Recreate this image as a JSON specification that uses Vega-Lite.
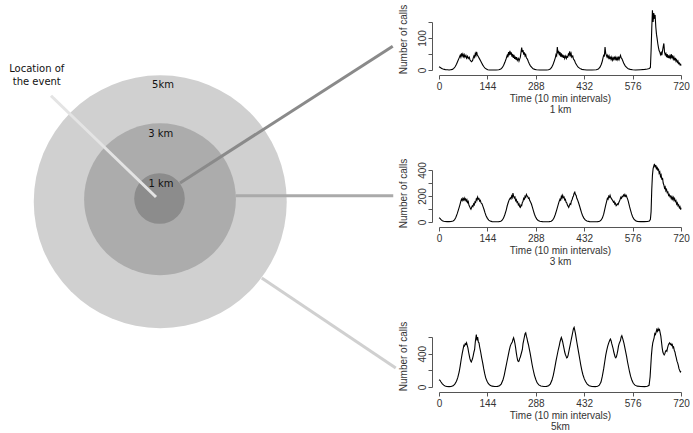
{
"$schema":"https://vega.github.io/schema/vega-lite/v6.json",
"padding":{"top":4,"left":0,"right":0,"bottom":0},
"background":"white",
"datasets":{
"rings":[{"ring":"5 km","km":5,"x":0.08,"y":-0.15},{"ring":"3 km","km":3,"x":0.07,"y":-0.05},{"ring":"1 km","km":1,"x":0.05,"y":-0.02}],
"links":[
{"to":"event","x":-4.29,"y":4.09,"x2":-0.09,"y2":0.04},
{"to":"1 km","x":0.87,"y":0.6,"x2":9.38,"y2":6.07},
{"to":"3 km","x":3.09,"y":0.09,"x2":9.4,"y2":0.09},
{"to":"5 km","x":4.14,"y":-3.2,"x2":9.5,"y2":-6.8}],
"labels":[
{"text":"Location of","x":-4.86,"y":5.17},
{"text":"the event","x":-4.86,"y":4.64},
{"text":"5km","x":0.19,"y":4.51},
{"text":"3 km","x":0.1,"y":2.56},
{"text":"1 km","x":0.11,"y":0.56}],
"s1":[{"t":0,"c":10},{"t":4,"c":8},{"t":8,"c":5},{"t":12,"c":3},{"t":16,"c":2},{"t":20,"c":1},{"t":25,"c":1},{"t":30,"c":0},{"t":35,"c":1},{"t":40,"c":2},{"t":44,"c":5},{"t":48,"c":10},{"t":52,"c":18},{"t":56,"c":28},{"t":60,"c":38},{"t":63,"c":46},{"t":65,"c":40},{"t":67,"c":52},{"t":69,"c":44},{"t":71,"c":50},{"t":73,"c":42},{"t":75,"c":48},{"t":77,"c":40},{"t":80,"c":46},{"t":82,"c":37},{"t":85,"c":43},{"t":87,"c":36},{"t":90,"c":40},{"t":92,"c":32},{"t":95,"c":28},{"t":97,"c":26},{"t":100,"c":30},{"t":102,"c":38},{"t":104,"c":44},{"t":106,"c":40},{"t":108,"c":52},{"t":110,"c":46},{"t":112,"c":57},{"t":114,"c":47},{"t":116,"c":44},{"t":118,"c":40},{"t":121,"c":34},{"t":124,"c":28},{"t":127,"c":22},{"t":130,"c":16},{"t":133,"c":11},{"t":137,"c":6},{"t":141,"c":3},{"t":145,"c":1},{"t":150,"c":0},{"t":160,"c":0},{"t":170,"c":0},{"t":178,"c":1},{"t":184,"c":3},{"t":188,"c":7},{"t":192,"c":14},{"t":196,"c":24},{"t":200,"c":36},{"t":203,"c":46},{"t":205,"c":40},{"t":207,"c":56},{"t":209,"c":46},{"t":211,"c":60},{"t":213,"c":48},{"t":215,"c":55},{"t":217,"c":42},{"t":219,"c":50},{"t":221,"c":38},{"t":223,"c":47},{"t":225,"c":35},{"t":227,"c":42},{"t":229,"c":32},{"t":231,"c":40},{"t":233,"c":30},{"t":236,"c":36},{"t":238,"c":28},{"t":240,"c":34},{"t":242,"c":40},{"t":244,"c":55},{"t":246,"c":70},{"t":248,"c":56},{"t":250,"c":62},{"t":252,"c":48},{"t":254,"c":55},{"t":256,"c":44},{"t":258,"c":48},{"t":260,"c":38},{"t":263,"c":34},{"t":266,"c":26},{"t":269,"c":19},{"t":272,"c":13},{"t":276,"c":8},{"t":280,"c":4},{"t":285,"c":2},{"t":290,"c":1},{"t":300,"c":0},{"t":310,"c":0},{"t":320,"c":0},{"t":326,"c":1},{"t":331,"c":3},{"t":335,"c":8},{"t":339,"c":16},{"t":343,"c":28},{"t":346,"c":38},{"t":348,"c":48},{"t":350,"c":44},{"t":352,"c":72},{"t":354,"c":52},{"t":356,"c":60},{"t":358,"c":46},{"t":360,"c":56},{"t":362,"c":42},{"t":364,"c":52},{"t":366,"c":40},{"t":368,"c":48},{"t":370,"c":38},{"t":372,"c":46},{"t":374,"c":36},{"t":377,"c":44},{"t":379,"c":36},{"t":381,"c":42},{"t":383,"c":40},{"t":385,"c":50},{"t":387,"c":46},{"t":389,"c":58},{"t":391,"c":46},{"t":393,"c":52},{"t":395,"c":40},{"t":398,"c":44},{"t":400,"c":34},{"t":403,"c":30},{"t":406,"c":22},{"t":410,"c":15},{"t":414,"c":9},{"t":419,"c":5},{"t":425,"c":2},{"t":432,"c":1},{"t":440,"c":0},{"t":455,"c":0},{"t":468,"c":1},{"t":474,"c":3},{"t":479,"c":9},{"t":483,"c":18},{"t":486,"c":28},{"t":488,"c":38},{"t":490,"c":46},{"t":492,"c":44},{"t":494,"c":72},{"t":496,"c":52},{"t":498,"c":46},{"t":500,"c":40},{"t":502,"c":46},{"t":504,"c":38},{"t":506,"c":44},{"t":508,"c":34},{"t":510,"c":42},{"t":512,"c":33},{"t":514,"c":40},{"t":516,"c":31},{"t":518,"c":38},{"t":520,"c":33},{"t":522,"c":42},{"t":524,"c":34},{"t":526,"c":40},{"t":528,"c":30},{"t":530,"c":38},{"t":532,"c":32},{"t":534,"c":42},{"t":536,"c":33},{"t":538,"c":40},{"t":540,"c":46},{"t":542,"c":38},{"t":544,"c":36},{"t":547,"c":28},{"t":550,"c":20},{"t":554,"c":13},{"t":558,"c":8},{"t":563,"c":4},{"t":569,"c":2},{"t":576,"c":1},{"t":585,"c":0},{"t":600,"c":1},{"t":612,"c":2},{"t":620,"c":3},{"t":626,"c":5},{"t":629,"c":8},{"t":631,"c":60},{"t":633,"c":130},{"t":635,"c":187},{"t":637,"c":150},{"t":639,"c":178},{"t":641,"c":160},{"t":643,"c":172},{"t":645,"c":135},{"t":647,"c":112},{"t":649,"c":98},{"t":651,"c":82},{"t":653,"c":70},{"t":655,"c":60},{"t":657,"c":56},{"t":659,"c":48},{"t":661,"c":54},{"t":663,"c":46},{"t":665,"c":60},{"t":667,"c":72},{"t":669,"c":83},{"t":671,"c":56},{"t":673,"c":48},{"t":675,"c":52},{"t":677,"c":40},{"t":679,"c":50},{"t":681,"c":38},{"t":683,"c":46},{"t":685,"c":36},{"t":687,"c":44},{"t":689,"c":38},{"t":691,"c":50},{"t":693,"c":36},{"t":695,"c":46},{"t":697,"c":34},{"t":699,"c":40},{"t":701,"c":30},{"t":703,"c":38},{"t":705,"c":28},{"t":707,"c":32},{"t":709,"c":24},{"t":711,"c":28},{"t":713,"c":20},{"t":715,"c":22},{"t":717,"c":16},{"t":719,"c":18},{"t":720,"c":14}],
"s2":[{"t":0,"c":32},{"t":3,"c":28},{"t":6,"c":18},{"t":10,"c":10},{"t":14,"c":6},{"t":18,"c":4},{"t":24,"c":3},{"t":30,"c":3},{"t":36,"c":4},{"t":42,"c":8},{"t":46,"c":16},{"t":50,"c":35},{"t":54,"c":62},{"t":58,"c":95},{"t":62,"c":130},{"t":65,"c":160},{"t":67,"c":175},{"t":69,"c":165},{"t":71,"c":182},{"t":73,"c":170},{"t":75,"c":185},{"t":77,"c":168},{"t":79,"c":178},{"t":81,"c":160},{"t":83,"c":172},{"t":85,"c":150},{"t":87,"c":158},{"t":89,"c":130},{"t":91,"c":120},{"t":93,"c":108},{"t":95,"c":98},{"t":97,"c":112},{"t":99,"c":124},{"t":101,"c":118},{"t":103,"c":140},{"t":105,"c":132},{"t":107,"c":155},{"t":109,"c":150},{"t":111,"c":178},{"t":113,"c":168},{"t":115,"c":192},{"t":117,"c":176},{"t":119,"c":180},{"t":121,"c":160},{"t":123,"c":166},{"t":125,"c":148},{"t":128,"c":140},{"t":131,"c":118},{"t":134,"c":96},{"t":137,"c":70},{"t":140,"c":48},{"t":144,"c":28},{"t":148,"c":14},{"t":152,"c":7},{"t":158,"c":3},{"t":168,"c":2},{"t":178,"c":3},{"t":184,"c":6},{"t":188,"c":14},{"t":192,"c":30},{"t":196,"c":58},{"t":200,"c":92},{"t":203,"c":125},{"t":206,"c":150},{"t":209,"c":172},{"t":212,"c":185},{"t":214,"c":178},{"t":216,"c":200},{"t":218,"c":188},{"t":220,"c":222},{"t":222,"c":198},{"t":224,"c":185},{"t":226,"c":192},{"t":228,"c":165},{"t":230,"c":172},{"t":232,"c":150},{"t":234,"c":155},{"t":236,"c":132},{"t":238,"c":140},{"t":240,"c":118},{"t":242,"c":112},{"t":244,"c":130},{"t":246,"c":125},{"t":248,"c":150},{"t":250,"c":160},{"t":252,"c":182},{"t":254,"c":175},{"t":256,"c":198},{"t":258,"c":190},{"t":260,"c":212},{"t":262,"c":200},{"t":264,"c":196},{"t":266,"c":182},{"t":268,"c":185},{"t":270,"c":165},{"t":272,"c":155},{"t":275,"c":138},{"t":278,"c":112},{"t":281,"c":85},{"t":284,"c":60},{"t":287,"c":40},{"t":291,"c":22},{"t":295,"c":12},{"t":300,"c":6},{"t":308,"c":3},{"t":318,"c":2},{"t":328,"c":3},{"t":334,"c":6},{"t":338,"c":14},{"t":342,"c":30},{"t":346,"c":58},{"t":350,"c":92},{"t":354,"c":128},{"t":357,"c":155},{"t":360,"c":175},{"t":362,"c":168},{"t":364,"c":198},{"t":366,"c":185},{"t":368,"c":205},{"t":370,"c":188},{"t":372,"c":192},{"t":374,"c":170},{"t":376,"c":175},{"t":378,"c":152},{"t":380,"c":148},{"t":382,"c":130},{"t":384,"c":122},{"t":386,"c":112},{"t":388,"c":128},{"t":390,"c":140},{"t":392,"c":135},{"t":394,"c":162},{"t":396,"c":170},{"t":398,"c":190},{"t":400,"c":200},{"t":402,"c":222},{"t":404,"c":230},{"t":406,"c":210},{"t":408,"c":205},{"t":410,"c":182},{"t":412,"c":172},{"t":415,"c":150},{"t":418,"c":125},{"t":421,"c":98},{"t":424,"c":72},{"t":427,"c":50},{"t":431,"c":30},{"t":435,"c":16},{"t":440,"c":8},{"t":448,"c":3},{"t":460,"c":2},{"t":472,"c":3},{"t":478,"c":6},{"t":482,"c":14},{"t":486,"c":30},{"t":490,"c":60},{"t":493,"c":95},{"t":496,"c":130},{"t":499,"c":160},{"t":501,"c":182},{"t":503,"c":175},{"t":505,"c":198},{"t":507,"c":190},{"t":509,"c":205},{"t":511,"c":188},{"t":513,"c":180},{"t":515,"c":172},{"t":517,"c":165},{"t":519,"c":152},{"t":521,"c":158},{"t":523,"c":138},{"t":525,"c":145},{"t":527,"c":125},{"t":529,"c":130},{"t":531,"c":140},{"t":533,"c":135},{"t":535,"c":150},{"t":537,"c":162},{"t":539,"c":175},{"t":541,"c":190},{"t":543,"c":182},{"t":545,"c":198},{"t":547,"c":195},{"t":549,"c":208},{"t":551,"c":200},{"t":553,"c":212},{"t":555,"c":198},{"t":557,"c":205},{"t":559,"c":190},{"t":561,"c":178},{"t":563,"c":160},{"t":565,"c":140},{"t":567,"c":118},{"t":570,"c":90},{"t":573,"c":62},{"t":576,"c":40},{"t":580,"c":22},{"t":585,"c":10},{"t":590,"c":5},{"t":600,"c":3},{"t":610,"c":3},{"t":620,"c":4},{"t":626,"c":8},{"t":629,"c":20},{"t":631,"c":80},{"t":633,"c":250},{"t":635,"c":360},{"t":637,"c":410},{"t":639,"c":430},{"t":641,"c":447},{"t":643,"c":420},{"t":645,"c":438},{"t":647,"c":405},{"t":649,"c":425},{"t":651,"c":395},{"t":653,"c":410},{"t":655,"c":375},{"t":657,"c":385},{"t":659,"c":350},{"t":661,"c":362},{"t":663,"c":325},{"t":665,"c":340},{"t":667,"c":300},{"t":669,"c":285},{"t":671,"c":260},{"t":673,"c":270},{"t":675,"c":240},{"t":677,"c":250},{"t":679,"c":225},{"t":681,"c":230},{"t":683,"c":205},{"t":685,"c":212},{"t":687,"c":195},{"t":689,"c":200},{"t":691,"c":180},{"t":693,"c":195},{"t":695,"c":176},{"t":697,"c":190},{"t":699,"c":168},{"t":701,"c":180},{"t":703,"c":158},{"t":705,"c":165},{"t":707,"c":138},{"t":709,"c":148},{"t":711,"c":125},{"t":713,"c":132},{"t":715,"c":110},{"t":717,"c":118},{"t":719,"c":95},{"t":720,"c":110}],
"s3":[{"t":0,"c":88},{"t":3,"c":80},{"t":6,"c":60},{"t":10,"c":38},{"t":14,"c":22},{"t":18,"c":12},{"t":23,"c":6},{"t":30,"c":4},{"t":36,"c":6},{"t":42,"c":14},{"t":47,"c":35},{"t":52,"c":70},{"t":56,"c":115},{"t":60,"c":180},{"t":63,"c":250},{"t":66,"c":330},{"t":69,"c":400},{"t":72,"c":460},{"t":74,"c":500},{"t":76,"c":492},{"t":78,"c":520},{"t":80,"c":510},{"t":82,"c":530},{"t":84,"c":500},{"t":86,"c":470},{"t":88,"c":420},{"t":90,"c":380},{"t":92,"c":340},{"t":94,"c":315},{"t":96,"c":300},{"t":98,"c":320},{"t":100,"c":345},{"t":102,"c":380},{"t":104,"c":420},{"t":106,"c":450},{"t":108,"c":540},{"t":110,"c":600},{"t":111,"c":630},{"t":113,"c":560},{"t":115,"c":600},{"t":117,"c":540},{"t":119,"c":530},{"t":121,"c":480},{"t":124,"c":420},{"t":127,"c":350},{"t":130,"c":290},{"t":133,"c":220},{"t":136,"c":160},{"t":139,"c":110},{"t":143,"c":70},{"t":147,"c":40},{"t":152,"c":20},{"t":158,"c":10},{"t":166,"c":6},{"t":174,"c":8},{"t":180,"c":15},{"t":185,"c":35},{"t":190,"c":80},{"t":194,"c":140},{"t":198,"c":220},{"t":202,"c":300},{"t":206,"c":380},{"t":209,"c":440},{"t":212,"c":490},{"t":215,"c":520},{"t":218,"c":540},{"t":220,"c":570},{"t":222,"c":590},{"t":224,"c":560},{"t":226,"c":520},{"t":228,"c":470},{"t":230,"c":410},{"t":232,"c":360},{"t":234,"c":320},{"t":236,"c":305},{"t":238,"c":310},{"t":240,"c":340},{"t":242,"c":360},{"t":244,"c":390},{"t":246,"c":420},{"t":248,"c":450},{"t":250,"c":520},{"t":252,"c":560},{"t":254,"c":600},{"t":256,"c":640},{"t":258,"c":650},{"t":260,"c":610},{"t":262,"c":580},{"t":264,"c":540},{"t":266,"c":510},{"t":268,"c":470},{"t":271,"c":410},{"t":274,"c":340},{"t":277,"c":270},{"t":280,"c":210},{"t":284,"c":140},{"t":288,"c":90},{"t":292,"c":50},{"t":297,"c":25},{"t":303,"c":12},{"t":312,"c":6},{"t":320,"c":8},{"t":326,"c":15},{"t":331,"c":35},{"t":336,"c":80},{"t":340,"c":140},{"t":344,"c":220},{"t":348,"c":310},{"t":352,"c":390},{"t":355,"c":450},{"t":358,"c":500},{"t":360,"c":540},{"t":362,"c":570},{"t":364,"c":594},{"t":366,"c":570},{"t":368,"c":540},{"t":370,"c":500},{"t":372,"c":460},{"t":374,"c":420},{"t":376,"c":390},{"t":378,"c":370},{"t":380,"c":350},{"t":382,"c":355},{"t":384,"c":380},{"t":386,"c":420},{"t":388,"c":460},{"t":390,"c":500},{"t":392,"c":540},{"t":394,"c":580},{"t":396,"c":620},{"t":398,"c":660},{"t":400,"c":700},{"t":402,"c":715},{"t":404,"c":680},{"t":406,"c":640},{"t":408,"c":590},{"t":410,"c":540},{"t":413,"c":470},{"t":416,"c":400},{"t":419,"c":330},{"t":422,"c":260},{"t":425,"c":200},{"t":428,"c":150},{"t":432,"c":100},{"t":436,"c":65},{"t":441,"c":35},{"t":447,"c":15},{"t":455,"c":6},{"t":465,"c":5},{"t":472,"c":10},{"t":477,"c":22},{"t":482,"c":60},{"t":486,"c":130},{"t":490,"c":220},{"t":493,"c":300},{"t":496,"c":380},{"t":499,"c":440},{"t":502,"c":490},{"t":505,"c":530},{"t":508,"c":560},{"t":510,"c":575},{"t":512,"c":555},{"t":514,"c":520},{"t":516,"c":490},{"t":518,"c":460},{"t":520,"c":420},{"t":522,"c":390},{"t":524,"c":360},{"t":526,"c":350},{"t":528,"c":365},{"t":530,"c":400},{"t":532,"c":440},{"t":534,"c":490},{"t":536,"c":520},{"t":538,"c":540},{"t":540,"c":560},{"t":542,"c":600},{"t":544,"c":615},{"t":546,"c":590},{"t":548,"c":560},{"t":550,"c":530},{"t":552,"c":490},{"t":555,"c":430},{"t":558,"c":370},{"t":561,"c":300},{"t":564,"c":240},{"t":567,"c":180},{"t":570,"c":130},{"t":574,"c":80},{"t":578,"c":45},{"t":583,"c":22},{"t":590,"c":10},{"t":600,"c":6},{"t":612,"c":5},{"t":620,"c":8},{"t":625,"c":20},{"t":628,"c":120},{"t":630,"c":250},{"t":632,"c":380},{"t":634,"c":470},{"t":636,"c":530},{"t":638,"c":560},{"t":640,"c":590},{"t":642,"c":640},{"t":644,"c":630},{"t":646,"c":660},{"t":648,"c":690},{"t":650,"c":670},{"t":652,"c":700},{"t":654,"c":680},{"t":656,"c":690},{"t":658,"c":650},{"t":660,"c":610},{"t":662,"c":540},{"t":664,"c":470},{"t":666,"c":420},{"t":668,"c":400},{"t":670,"c":385},{"t":672,"c":400},{"t":674,"c":430},{"t":676,"c":440},{"t":678,"c":430},{"t":680,"c":470},{"t":682,"c":500},{"t":684,"c":520},{"t":686,"c":530},{"t":688,"c":510},{"t":690,"c":520},{"t":692,"c":500},{"t":694,"c":510},{"t":696,"c":470},{"t":698,"c":480},{"t":700,"c":440},{"t":702,"c":420},{"t":704,"c":380},{"t":706,"c":350},{"t":708,"c":310},{"t":710,"c":290},{"t":712,"c":260},{"t":714,"c":220},{"t":716,"c":200},{"t":718,"c":180},{"t":720,"c":190}]
},
"hconcat":[
{
"width":395,"height":414,
"layer":[
{"data":{"name":"rings"},"mark":{"type":"point","shape":"circle","filled":true,"opacity":1,"strokeWidth":0},
"encoding":{
"x":{"field":"x","type":"quantitative","scale":{"domain":[-6.33,9.47],"nice":false,"zero":false},"axis":null},
"y":{"field":"y","type":"quantitative","scale":{"domain":[-9.52,7.04],"nice":false,"zero":false},"axis":null},
"size":{"field":"km","type":"quantitative","scale":{"type":"pow","exponent":2,"domain":[0,5],"range":[0,64009]},"legend":null},
"fill":{"field":"ring","type":"nominal","scale":{"domain":["5 km","3 km","1 km"],"range":["#d0d0d0","#acacac","#8c8c8c"]},"legend":null}}},
{"data":{"name":"links"},"mark":{"type":"rule","strokeWidth":3},
"encoding":{
"x":{"field":"x","type":"quantitative"},"y":{"field":"y","type":"quantitative"},
"x2":{"field":"x2"},"y2":{"field":"y2"},
"stroke":{"field":"to","type":"nominal","scale":{"domain":["event","1 km","3 km","5 km"],"range":["#e4e4e4","#8a8a8a","#aaaaaa","#d0d0d0"]},"legend":null}}},
{"mark":{"type":"square","size":9,"color":"black","opacity":1},
"encoding":{"x":{"datum":0,"type":"quantitative"},"y":{"datum":0,"type":"quantitative"}}},
{"data":{"name":"labels"},"mark":{"type":"text","font":"DejaVu Sans","fontSize":10,"color":"#111","align":"center","baseline":"middle"},
"encoding":{"x":{"field":"x","type":"quantitative"},"y":{"field":"y","type":"quantitative"},"text":{"field":"text"}}}
]
},
{"vconcat":[
{"width":242,"height":48,"data":{"name":"s1"},
"mark":{"type":"line","color":"black","strokeWidth":1.1},
"encoding":{
"x":{"field":"t","type":"quantitative","scale":{"domain":[0,720],"nice":false,"zero":false},"axis":{"values":[0,144,288,432,576,720],"title":["Time (10 min intervals)","1 km"]}},
"y":{"field":"c","type":"quantitative","scale":{"domain":[0,150],"nice":false},"axis":{"values":[0,50,100,150],"labelExpr":"datum.value==50||datum.value==150?'':datum.label","title":"Number of calls","titleY":17}}}},
{"vconcat":[
{"width":242,"height":52,"data":{"name":"s2"},
"mark":{"type":"line","color":"black","strokeWidth":1.1},
"encoding":{
"x":{"field":"t","type":"quantitative","scale":{"domain":[0,720],"nice":false,"zero":false},"axis":{"values":[0,144,288,432,576,720],"title":["Time (10 min intervals)","3 km"]}},
"y":{"field":"c","type":"quantitative","scale":{"domain":[0,400],"nice":false},"axis":{"values":[0,100,200,300,400],"labelExpr":"datum.value==100||datum.value==300?'':datum.label","title":"Number of calls","titleY":23}}}},
{"width":242,"height":50,"data":{"name":"s3"},
"mark":{"type":"line","color":"black","strokeWidth":1.1},
"encoding":{
"x":{"field":"t","type":"quantitative","scale":{"domain":[0,720],"nice":false,"zero":false},"axis":{"values":[0,144,288,432,576,720],"title":["Time (10 min intervals)","5km"]}},
"y":{"field":"c","type":"quantitative","scale":{"domain":[0,600],"nice":false},"axis":{"values":[0,200,400,600],"labelExpr":"datum.value==200||datum.value==600?'':datum.label","title":"Number of calls","titleY":19}}}}
],"spacing":55}
],"spacing":44}
],
"spacing":0,
"config":{
"view":{"stroke":null},
"axis":{"grid":false,"tickSize":4,"labelFont":"Liberation Sans","labelFontSize":10,"titleFont":"Liberation Sans","titleFontSize":10,"titleFontWeight":"normal","domainColor":"#555","tickColor":"#555","labelColor":"#333","titleColor":"#333","labelFlush":false,"labelOverlap":false},
"axisX":{"offset":5,"labelPadding":2,"titlePadding":2,"titleLineHeight":11},
"axisY":{"offset":7,"labelAngle":-90,"labelAlign":"center","labelBaseline":"bottom","labelPadding":1,"titlePadding":9}
}
}
